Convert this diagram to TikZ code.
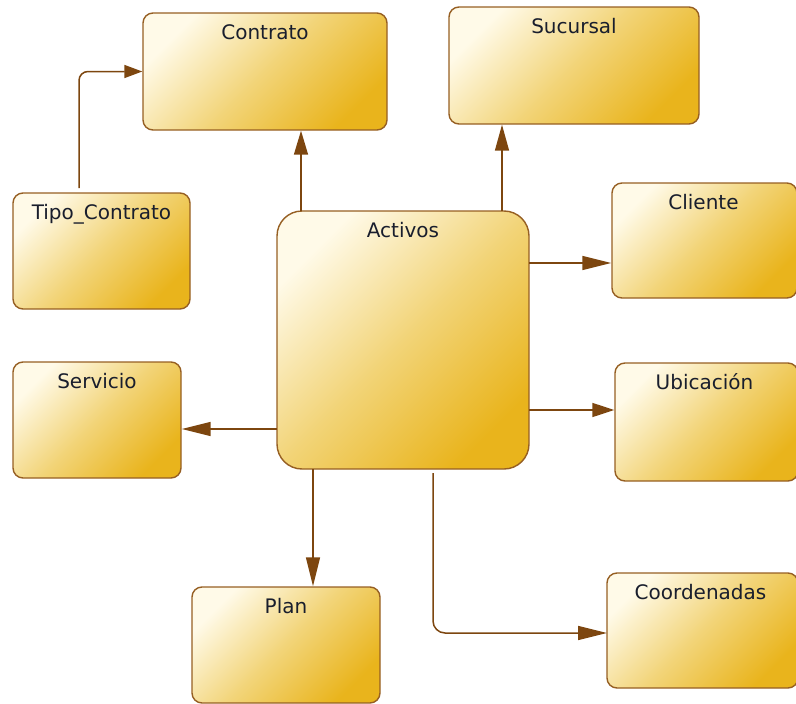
\documentclass[tikz,border=0pt]{standalone}
\usepackage{fontspec}
\setmainfont{DejaVu Sans}
\usetikzlibrary{arrows.meta}
\definecolor{boxline}{RGB}{150,95,35}
\definecolor{connline}{RGB}{125,70,15}
\definecolor{gtop}{RGB}{255,250,232}
\definecolor{gmid}{RGB}{242,212,120}
\definecolor{gbot}{RGB}{233,180,28}
\definecolor{txt}{RGB}{25,30,45}
\tikzset{
  entity/.style={draw=boxline, line width=1.4pt, rounded corners=10pt,
    top color=gtop, bottom color=gbot, middle color=gmid, shading angle=45,
    inner sep=0pt},
  etitle/.style={font=\fontsize{20}{24}\selectfont, text=txt, anchor=base, yshift=-27pt, inner sep=0pt},
  conn/.style={draw=connline, line width=1.5pt,
    -{Triangle[length=26pt,width=14pt]}},
}
\begin{document}
\begin{tikzpicture}[x=1pt,y=-1pt]
\useasboundingbox (0,0) rectangle (796,704);
% boxes
\node[entity, minimum width=244pt, minimum height=117pt,
  label={[etitle]north:Contrato}] (contrato) at (265,71.5) {};
\node[entity, minimum width=177pt, minimum height=116pt,
  label={[etitle]north:Tipo\_Contrato}] (tipo) at (101.5,251) {};
\node[entity, rounded corners=25pt, minimum width=252pt, minimum height=258pt,
  label={[etitle]north:Activos}] (activos) at (403,340) {};
\node[entity, minimum width=250pt, minimum height=117pt,
  label={[etitle]north:Sucursal}] (sucursal) at (574,65.5) {};
\node[entity, minimum width=185pt, minimum height=115pt,
  label={[etitle,xshift=-1pt]north:Cliente}] (cliente) at (704.5,240.5) {};
\node[entity, minimum width=168pt, minimum height=116pt,
  label={[etitle]north:Servicio}] (servicio) at (97,420) {};
\node[entity, minimum width=188pt, minimum height=116pt,
  label={[etitle]north:Plan}] (plan) at (286,645) {};
\node[entity, minimum width=183pt, minimum height=118pt,
  label={[etitle,xshift=-2pt]north:Ubicación}] (ubicacion) at (706.5,422) {};
\node[entity, minimum width=191pt, minimum height=115pt,
  label={[etitle,xshift=-2pt]north:Coordenadas}] (coordenadas) at (702.5,630.5) {};
% connector start points
\coordinate (t1) at (79,188);
\coordinate (a1) at (301,211);
\coordinate (a2) at (502,211);
\coordinate (a3) at (529,263);
\coordinate (a4) at (529,410);
\coordinate (a5) at (277,429);
\coordinate (a6) at (313,469);
\coordinate (a7) at (433,473);
\coordinate (c7) at (607,633);
% connectors
\draw[conn, rounded corners=9pt, -{Triangle[length=18pt,width=13pt]}] (t1) |- (contrato.west);
\draw[conn, -{Triangle[length=24pt,width=14pt]}] (a1) -- (a1 |- contrato.south);
\draw[conn] (a2) -- (a2 |- sucursal.south);
\draw[conn, -{Triangle[length=29pt,width=14pt]}] (a3) -- (a3 -| cliente.west);
\draw[conn, -{Triangle[length=22pt,width=14pt]}] (a4) -- (a4 -| ubicacion.west);
\draw[conn, -{Triangle[length=29pt,width=14pt]}] (a5) -- (a5 -| servicio.east);
\draw[conn, -{Triangle[length=29pt,width=14pt]}] (a6) -- (a6 |- plan.north);
\draw[conn, rounded corners=12pt, -{Triangle[length=29pt,width=14pt]}] (a7) |- (c7);
\end{tikzpicture}
\end{document}
